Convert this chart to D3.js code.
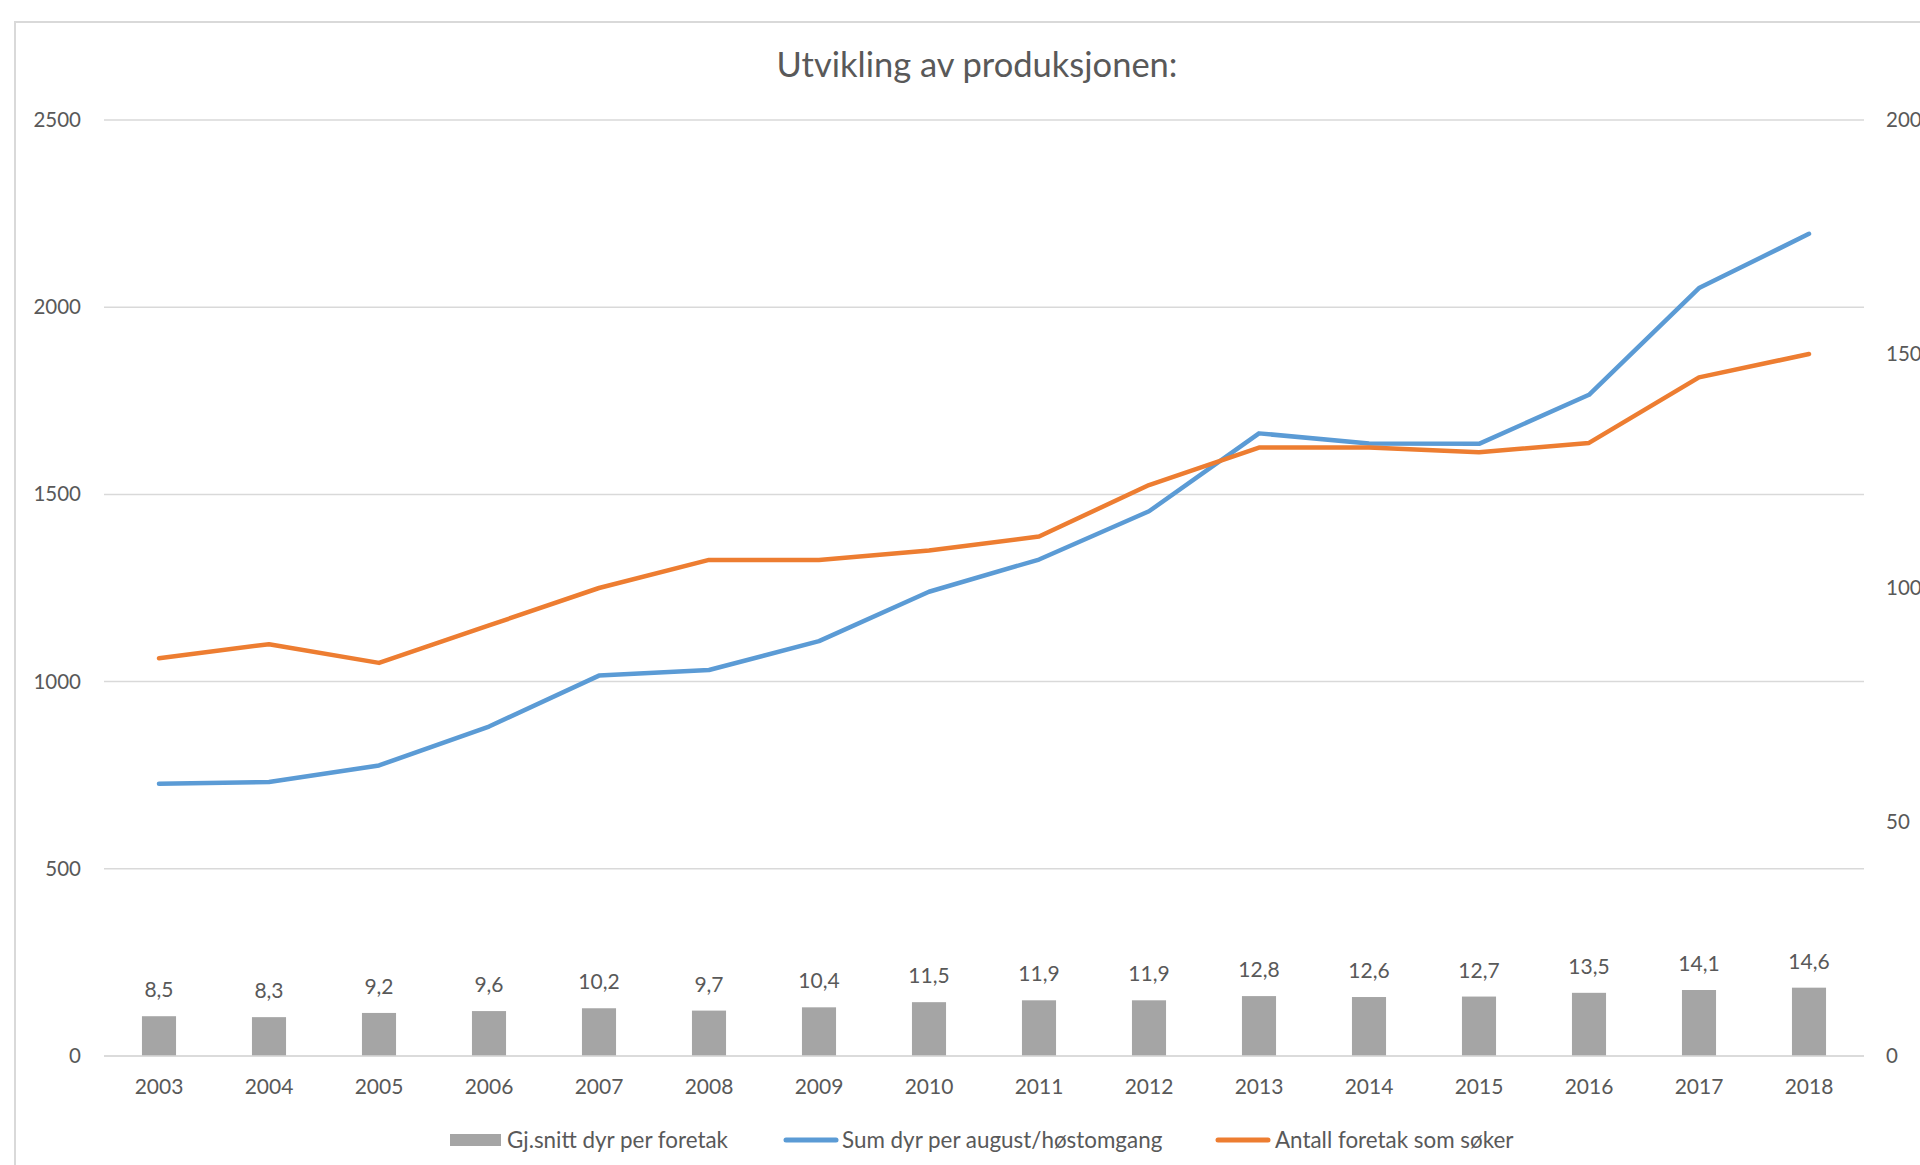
<!DOCTYPE html>
<html>
<head>
<meta charset="utf-8">
<script src="https://cdn.jsdelivr.net/npm/d3@7/dist/d3.min.js"></script>
<style>
html, body { margin: 0; padding: 0; background: #fff; overflow: hidden; }
svg { display: block; }
text { font-family: Lato, "Open Sans", sans-serif; fill: #595959; }
</style>
</head>
<body>
<svg id="chart" width="1920" height="1165"></svg>
<script>
const years = ["2003","2004","2005","2006","2007","2008","2009","2010","2011","2012","2013","2014","2015","2016","2017","2018"];
const avgPerFarm = [8.5, 8.3, 9.2, 9.6, 10.2, 9.7, 10.4, 11.5, 11.9, 11.9, 12.8, 12.6, 12.7, 13.5, 14.1, 14.6];
const sumAnimals = [727, 732, 776, 880, 1016, 1031, 1108, 1240, 1326, 1455, 1663, 1636, 1635, 1766, 2051, 2196];
const farmsApplying = [85, 88, 84, 92, 100, 106, 106, 108, 111, 122, 130, 130, 129, 131, 145, 150];
const leftTicks = [0, 500, 1000, 1500, 2000, 2500];
const rightTicks = [0, 50, 100, 150, 200];
const seriesNames = ["Gj.snitt dyr per foretak", "Sum dyr per august/høstomgang", "Antall foretak som søker"];
const title = "Utvikling av produksjonen:";

const colors = { bar: "#A5A5A5", blue: "#5B9BD5", orange: "#ED7D31", grid: "#D9D9D9" };

const svg = d3.select("#chart");
const plot = { left: 104, right: 1864, top: 120, bottom: 1056 };

// outer frame
svg.append("rect").attr("x", 15).attr("y", 22).attr("width", 2000).attr("height", 2000)
  .attr("fill", "none").attr("stroke", colors.grid).attr("stroke-width", 2);

svg.append("text").attr("x", 977).attr("y", 77).attr("text-anchor", "middle")
  .attr("font-size", 34.5).text(title);

const x = d3.scaleBand().domain(years).range([plot.left, plot.right]);
const yL = d3.scaleLinear().domain([0, 2500]).range([plot.bottom, plot.top]);
const yR = d3.scaleLinear().domain([0, 200]).range([plot.bottom, plot.top]);

// gridlines
svg.append("g").selectAll("line").data(leftTicks).join("line")
  .attr("x1", plot.left).attr("x2", plot.right)
  .attr("y1", d => yL(d)).attr("y2", d => yL(d))
  .attr("stroke", colors.grid).attr("stroke-width", 1.5);

// left axis
const leftAxis = svg.append("g").attr("transform", `translate(${plot.left},0)`)
  .call(d3.axisLeft(yL).tickValues(leftTicks).tickSize(0).tickPadding(23).tickFormat(d3.format("d")));
leftAxis.select(".domain").remove();
leftAxis.selectAll("text").attr("font-size", 20.5).attr("font-family", "Lato").attr("fill", "#595959");

// right axis
const rightAxis = svg.append("g").attr("transform", `translate(${plot.right},0)`)
  .call(d3.axisRight(yR).tickValues(rightTicks).tickSize(0).tickPadding(22).tickFormat(d3.format("d")));
rightAxis.select(".domain").remove();
rightAxis.selectAll("text").attr("font-size", 20.5).attr("font-family", "Lato").attr("fill", "#595959");

// bottom axis
const bottomAxis = svg.append("g").attr("transform", `translate(0,${plot.bottom})`)
  .call(d3.axisBottom(x).tickSize(0).tickPadding(23));
bottomAxis.select(".domain").remove();
bottomAxis.selectAll("text").attr("font-size", 21).attr("font-family", "Lato").attr("fill", "#595959");

// bars
const bw = x.bandwidth() * 0.31;
svg.append("g").selectAll("rect").data(years).join("rect")
  .attr("x", d => x(d) + x.bandwidth() / 2 - bw / 2)
  .attr("y", (d, i) => yR(avgPerFarm[i]))
  .attr("width", bw)
  .attr("height", (d, i) => yR(0) - yR(avgPerFarm[i]))
  .attr("fill", colors.bar);

// bar labels
svg.append("g").selectAll("text").data(years).join("text")
  .attr("x", d => x(d) + x.bandwidth() / 2)
  .attr("y", (d, i) => yR(avgPerFarm[i]) - 19)
  .attr("text-anchor", "middle").attr("font-size", 21)
  .text((d, i) => String(avgPerFarm[i]).replace(".", ","));

// x axis line
svg.append("line").attr("x1", plot.left).attr("x2", plot.right)
  .attr("y1", plot.bottom).attr("y2", plot.bottom)
  .attr("stroke", colors.grid).attr("stroke-width", 1.5);

const cx = d => x(d) + x.bandwidth() / 2;
const lineBlue = d3.line().x((d, i) => cx(years[i])).y(d => yL(d));
const lineOrange = d3.line().x((d, i) => cx(years[i])).y(d => yR(d));

svg.append("path").datum(sumAnimals).attr("d", lineBlue)
  .attr("fill", "none").attr("stroke", colors.blue).attr("stroke-width", 4.5)
  .attr("stroke-linecap", "round").attr("stroke-linejoin", "round");
svg.append("path").datum(farmsApplying).attr("d", lineOrange)
  .attr("fill", "none").attr("stroke", colors.orange).attr("stroke-width", 4.5)
  .attr("stroke-linecap", "round").attr("stroke-linejoin", "round");

// legend
const legY = 1140;
const leg = svg.append("g");
leg.append("rect").attr("x", 450).attr("y", legY - 6).attr("width", 51).attr("height", 12).attr("fill", colors.bar);
leg.append("text").attr("x", 507).attr("y", legY).attr("dy", "0.35em").attr("font-size", 22.4).text(seriesNames[0]);
leg.append("line").attr("x1", 786).attr("x2", 836).attr("y1", legY).attr("y2", legY)
  .attr("stroke", colors.blue).attr("stroke-width", 5).attr("stroke-linecap", "round");
leg.append("text").attr("x", 842).attr("y", legY).attr("dy", "0.35em").attr("font-size", 22.4).text(seriesNames[1]);
leg.append("line").attr("x1", 1218).attr("x2", 1268).attr("y1", legY).attr("y2", legY)
  .attr("stroke", colors.orange).attr("stroke-width", 5).attr("stroke-linecap", "round");
leg.append("text").attr("x", 1275).attr("y", legY).attr("dy", "0.35em").attr("font-size", 22.4).text(seriesNames[2]);
</script>
</body>
</html>
